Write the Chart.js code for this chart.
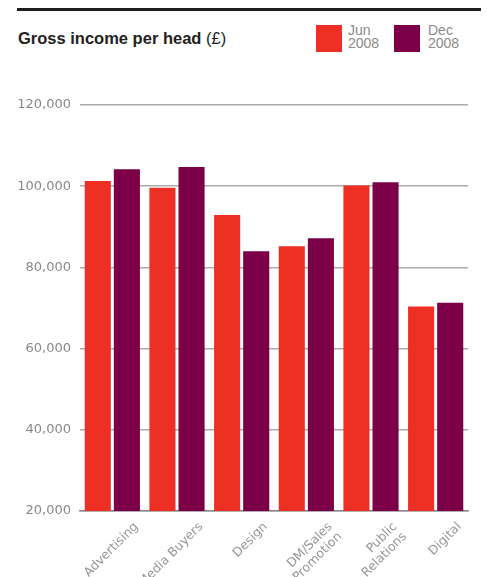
<!DOCTYPE html>
<html>
<head>
<meta charset="utf-8">
<script src="https://cdn.jsdelivr.net/npm/chart.js@4.4.1/dist/chart.umd.min.js"></script>
<style>
  html, body { margin: 0; padding: 0; background: #fff; }
  #wrap { position: relative; width: 487px; height: 577px; overflow: hidden; }
  #rule { position: absolute; left: 17px; top: 8px; width: 464px; height: 3px; background: #1e1e1e; }
  #title { position: absolute; left: 18px; top: 29px; font-family: "Liberation Sans", Arial, sans-serif; font-size: 16.5px; color: #222; white-space: nowrap; }
  #title b { font-weight: bold; }
  .sw { position: absolute; top: 25px; width: 26px; height: 27px; }
  .lt { position: absolute; top: 24px; font-family: "Liberation Sans", Arial, sans-serif; font-size: 14px; line-height: 12.5px; color: #8a8a8a; }
  canvas { position: absolute; left: 0; top: 0; }
</style>
</head>
<body>
<div id="wrap">
  <div id="rule"></div>
  <div id="title"><b>Gross income per head</b> (£)</div>
  <div class="sw" style="left:316px;background:#EE3024"></div>
  <div class="lt" style="left:348px">Jun<br>2008</div>
  <div class="sw" style="left:394px;background:#7B0047"></div>
  <div class="lt" style="left:428px">Dec<br>2008</div>
  <canvas id="c" width="487" height="577"></canvas>
</div>
<script>
const categories = ["Advertising", "Media Buyers", "Design", ["DM/Sales", "Promotion"], ["Public", "Relations"], "Digital"];
const seriesNames = ["Jun 2008", "Dec 2008"];
const jun2008 = [101300, 99600, 92900, 85200, 100200, 70400];
const dec2008 = [104200, 104700, 84000, 87200, 101000, 71300];
const yTicks = [20000, 40000, 60000, 80000, 100000, 120000];

const colors = ["#EE3024", "#7B0047"];

new Chart(document.getElementById("c"), {
  type: "bar",
  data: {
    labels: categories,
    datasets: [
      { label: seriesNames[0], data: jun2008, backgroundColor: colors[0], borderWidth: 0 },
      { label: seriesNames[1], data: dec2008, backgroundColor: colors[1], borderWidth: 0 }
    ]
  },
  options: {
    responsive: false,
    devicePixelRatio: 1,
    animation: false,
    datasets: { bar: { categoryPercentage: 0.9, barPercentage: 0.897 } },
    layout: { padding: { top: 105, right: 19, left: 0, bottom: 0 } },
    plugins: { legend: { display: false }, tooltip: { enabled: false }, title: { display: false } },
    scales: {
      y: {
        min: yTicks[0],
        max: yTicks[yTicks.length - 1],
        afterBuildTicks: (s) => { s.ticks = yTicks.map(v => ({ value: v })); },
        afterFit: (s) => { s.width = 80; },
        border: { display: false },
        grid: { color: "#ababab", lineWidth: 1.5, drawTicks: false },
        ticks: {
          padding: 9,
          color: "#888888",
          font: { family: "DejaVu Sans", size: 13 },
          callback: (v) => v.toLocaleString("en-GB")
        }
      },
      x: {
        afterFit: (s) => { s.height = 66; },
        grid: { display: false, drawTicks: false },
        border: { display: true, color: "#8a8a8a", width: 1.5 },
        ticks: {
          maxRotation: 45,
          minRotation: 45,
          autoSkip: false,
          padding: 9,
          labelOffset: 24,
          color: "#969696",
          font: { family: "DejaVu Sans", size: 12.5, lineHeight: 1.1 }
        }
      }
    }
  }
});
</script>
</body>
</html>
